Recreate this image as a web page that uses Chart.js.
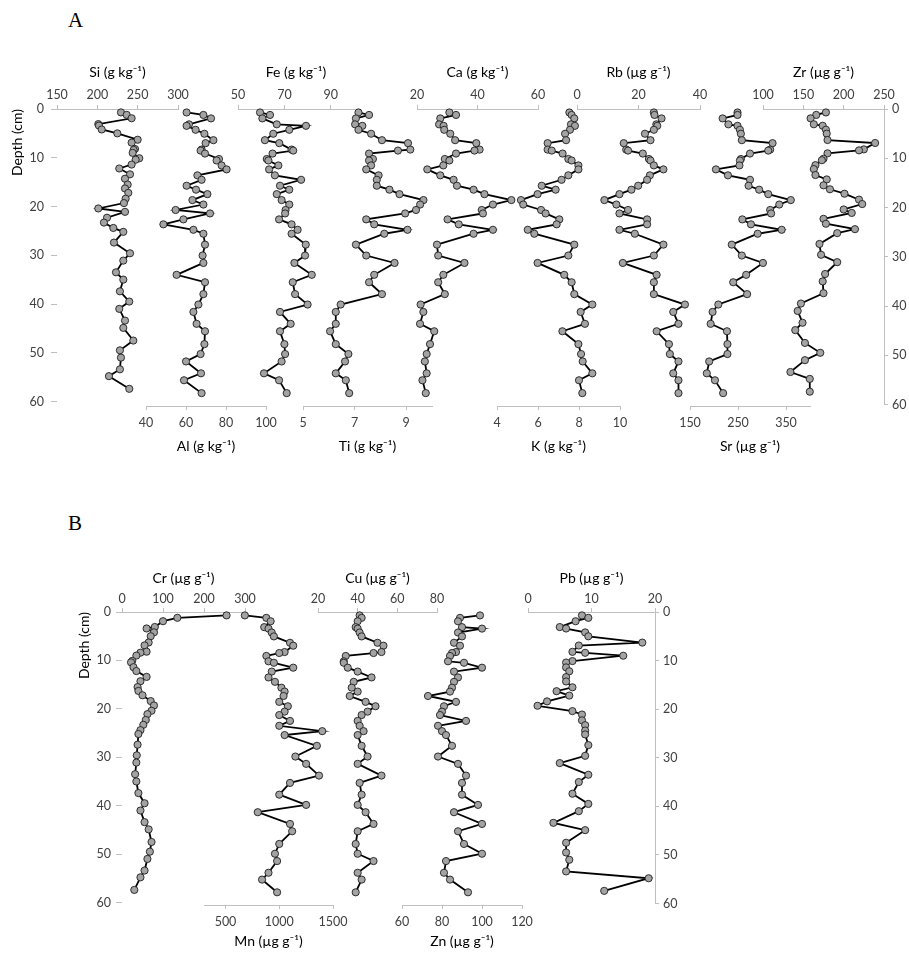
<!DOCTYPE html>
<html>
<head>
<meta charset="utf-8">
<script src="https://cdn.jsdelivr.net/npm/chart.js@4.4.0/dist/chart.umd.min.js"></script>
<style>
  body { margin: 0; background: #fff; width: 909px; height: 954px; position: relative; overflow: hidden; }
  .panel { position: absolute; font-family: "Liberation Serif", serif; font-size: 21px; color: #000; }
</style>
</head>
<body>
<div class="panel" style="left:68px;top:8px">A</div>
<div class="panel" style="left:68px;top:511px">B</div>
<script>
// sample depths (cm)
const depthA = [0.7, 1.2, 1.9, 3.1, 3.4, 4.2, 5.0, 6.3, 6.9, 8.2, 8.4, 9.0, 10.1, 10.4, 11.4, 12.2, 13.4, 14.3, 15.5, 16.3, 17.2, 18.4, 19.3, 20.4, 21.1, 22.3, 23.3, 24.4, 25.2, 27.4, 29.6, 31.1, 33.5, 35.0, 37.4, 39.5, 41.0, 43.4, 44.9, 47.5, 49.5, 51.0, 53.4, 54.8, 57.4];
const depthB = depthA;
const depthTicks = [0, 10, 20, 30, 40, 50, 60];

// panel A (g kg-1 / ug g-1)
const si = [229.3, 236.4, 242.5, 201.2, 202.0, 205.4, 224.8, 250.0, 242.5, 246.7, 245.0, 243.8, 252.0, 247.5, 242.5, 227.2, 240.5, 234.3, 237.6, 234.3, 238.4, 235.1, 233.0, 201.2, 234.3, 212.0, 208.2, 219.8, 232.2, 220.6, 240.5, 232.2, 223.1, 232.2, 228.0, 239.6, 227.2, 234.3, 232.2, 244.6, 228.0, 229.3, 228.0, 214.4, 239.6];
const al = [60.3, 68.7, 72.5, 61.5, 60.3, 64.8, 69.2, 73.7, 69.8, 67.8, 67.3, 69.5, 76.5, 75.3, 77.8, 80.3, 65.7, 67.8, 60.3, 65.0, 70.7, 63.2, 68.7, 54.8, 72.0, 58.7, 48.7, 63.7, 68.7, 69.5, 68.3, 68.7, 55.3, 69.5, 68.7, 66.2, 63.7, 65.3, 69.5, 69.2, 67.3, 60.0, 67.5, 59.0, 67.8];
const fe = [59.5, 63.8, 60.5, 66.7, 79.3, 72.1, 65.2, 61.6, 67.8, 73.1, 73.8, 64.9, 62.4, 63.1, 67.4, 63.4, 65.9, 77.2, 68.1, 72.1, 66.7, 68.8, 72.1, 70.5, 70.3, 67.7, 73.1, 75.7, 73.1, 79.2, 78.9, 74.3, 81.8, 73.6, 74.6, 80.0, 68.1, 72.7, 68.1, 70.0, 70.3, 68.8, 61.2, 67.7, 71.0];
const ti = [7.15, 7.56, 7.05, 7.02, 7.30, 7.15, 7.64, 8.06, 9.07, 9.16, 8.68, 7.56, 7.71, 7.56, 7.64, 7.45, 7.93, 7.86, 7.86, 8.35, 8.74, 9.67, 9.54, 9.38, 8.96, 7.45, 7.76, 9.05, 8.15, 7.05, 7.45, 8.55, 7.76, 7.56, 8.06, 6.46, 6.27, 6.27, 6.05, 6.27, 6.76, 6.63, 6.27, 6.66, 6.79];
const ca = [30.7, 32.9, 27.7, 27.3, 28.8, 29.0, 31.0, 32.6, 39.6, 40.7, 39.0, 32.9, 29.2, 30.7, 28.7, 23.4, 27.7, 32.1, 33.2, 38.7, 42.3, 51.2, 45.1, 41.4, 41.8, 30.1, 33.8, 45.1, 38.7, 26.6, 27.0, 35.7, 28.7, 27.0, 29.2, 21.2, 22.1, 21.0, 25.7, 24.3, 23.2, 22.6, 23.2, 21.8, 22.9];
const k = [7.53, 7.64, 7.77, 7.61, 7.80, 7.56, 7.32, 7.37, 6.47, 6.47, 6.67, 7.20, 7.48, 7.64, 7.97, 7.97, 7.48, 7.15, 6.18, 6.86, 5.98, 5.17, 5.28, 6.15, 6.37, 7.04, 6.91, 5.50, 5.82, 7.77, 7.48, 5.98, 7.28, 7.64, 7.77, 8.65, 8.08, 8.29, 7.19, 7.97, 8.10, 8.18, 8.65, 8.00, 8.16];
const rb = [25.0, 25.2, 27.5, 25.8, 26.1, 25.0, 22.1, 23.9, 15.2, 16.0, 16.6, 21.4, 23.4, 23.9, 25.0, 28.1, 23.7, 22.8, 19.9, 17.7, 13.8, 8.9, 12.8, 16.6, 13.8, 22.8, 22.8, 13.8, 18.8, 28.1, 25.0, 14.9, 25.9, 25.0, 25.0, 35.1, 31.3, 33.0, 25.9, 29.9, 30.2, 33.0, 31.3, 33.0, 33.0];
const sr = [249, 249, 218, 230, 249, 254, 256, 258, 322, 317, 313, 275, 256, 254, 253, 204, 229, 275, 272, 294, 313, 360, 336, 317, 319, 259, 277, 341, 291, 237, 258, 302, 267, 240, 269, 209, 197, 193, 227, 228, 228, 190, 185, 202, 219];
const zr = [178, 166, 159, 163, 174, 178, 179, 180, 239, 225, 219, 180, 175, 173, 165, 163, 165, 179, 175, 183, 201, 219, 223, 200, 210, 175, 178, 214, 192, 170, 172, 192, 177, 174, 175, 147, 143, 149, 140, 152, 171, 152, 134, 158, 158];

// panel B (ug g-1)
const cr = [255, 135, 100, 80, 60, 78, 70, 65, 55, 60, 45, 35, 25, 22, 28, 35, 60, 45, 38, 40, 50, 70, 78, 72, 62, 58, 52, 45, 40, 38, 36, 35, 32, 35, 40, 55, 45, 55, 65, 72, 68, 62, 55, 45, 30];
const mn = [680, 880, 920, 860, 900, 930, 950, 1100, 1130, 1050, 1000, 880, 900, 950, 1130, 930, 900, 960, 1020, 1050, 1040, 1000, 1080, 1050, 1000, 1100, 1000, 1400, 1050, 1350, 1150, 1250, 1370, 1100, 1000, 1250, 800, 1100, 1120, 1000, 960, 980, 900, 840, 980];
const cu = [41, 42, 40, 39, 40, 41, 42, 50, 53, 52, 48, 34, 33, 33, 35, 40, 47, 38, 37, 40, 36, 44, 49, 45, 42, 40, 41, 43, 40, 42, 45, 40, 52, 41, 42, 40, 44, 48, 40, 39, 40, 48, 40, 42, 39];
const zn = [99, 89, 88, 90, 100, 88, 90, 86, 89, 87, 85, 84, 83, 91, 100, 86, 88, 86, 85, 84, 73, 87, 81, 80, 79, 92, 78, 80, 82, 85, 78, 88, 92, 90, 90, 98, 86, 100, 88, 91, 100, 82, 81, 84, 93];
const pb = [8.5, 9.5, 7.5, 5, 6, 9, 9.5, 18, 8, 7, 9, 15, 7, 6, 6, 6.5, 6, 6, 7, 4.5, 6.5, 3, 1.5, 7, 8.5, 8.5, 9, 9, 9, 9.5, 9, 5, 9.5, 8, 7, 9.5, 8, 4, 9, 6, 6, 6.5, 6, 19, 12];

const axisGrey = "#bfbfbf";
const tickColor = "#404040";
const tickFont = { family: "Lato", size: 12.5 };
const titleFont = { family: "Lato", size: 14 };

function addProfile(p) {
    let padL = p.yAxis === "left" ? p.yw : 26;
    let padR = p.yAxis === "right" ? p.yw : 26;
    let edge = 10;
    let cv = document.createElement("canvas");
    cv.width = p.x1 - p.x0 + padL + padR;
    cv.height = p.bottom - p.top + p.axisH + edge;
    cv.style.position = "absolute";
    cv.style.left = (p.x0 - padL) + "px";
    cv.style.top = (p.pos === "top" ? p.top - p.axisH : p.top - edge) + "px";
    document.body.appendChild(cv);

    new Chart(cv, {
        type: "scatter",
        data: {
            datasets: [{
                data: p.vals.map((v, i) => ({ x: v, y: -p.depth[i] })),
                showLine: true,
                borderColor: "#000",
                borderWidth: 1.8,
                pointRadius: 3.6,
                pointBackgroundColor: "#a3a3a3",
                pointBorderColor: "#1e1e1e",
                pointBorderWidth: 0.9,
                clip: false
            }]
        },
        options: {
            responsive: false,
            animation: false,
            layout: {
                autoPadding: false,
                padding: {
                    left: p.yAxis === "left" ? 0 : padL,
                    right: p.yAxis === "right" ? 0 : padR,
                    top: p.pos === "top" ? 0 : edge,
                    bottom: p.pos === "top" ? edge : 0
                }
            },
            plugins: { legend: { display: false }, tooltip: { enabled: false } },
            scales: {
                x: {
                    type: "linear",
                    position: p.pos,
                    min: p.min,
                    max: p.max,
                    afterBuildTicks: s => { s.ticks = p.ticks.map(v => ({ value: v })); },
                    afterFit: s => { s.height = p.axisH; },
                    ticks: { callback: v => String(v), font: tickFont, color: tickColor, padding: p.tickPad, maxRotation: 0, autoSkip: false },
                    grid: { drawOnChartArea: false, tickLength: 4, color: axisGrey },
                    border: { color: axisGrey },
                    title: { display: true, text: p.title, font: titleFont, color: "#000", padding: 0 }
                },
                y: {
                    type: "linear",
                    display: !!p.yAxis,
                    position: p.yAxis || "left",
                    min: -60,
                    max: 0,
                    afterBuildTicks: s => { s.ticks = depthTicks.map(v => ({ value: -v })); },
                    afterFit: s => { if (p.yAxis) s.width = p.yw; },
                    ticks: { callback: v => Math.abs(v), font: tickFont, color: tickColor, padding: p.yAxis === "left" ? p.yPad : 4 },
                    grid: { drawOnChartArea: false, tickLength: p.yAxis === "left" ? 6 : 4, color: axisGrey },
                    border: { display: p.yAxis === "right", color: axisGrey },
                    title: { display: p.yAxis === "left", text: "Depth (cm)", align: "end", font: titleFont, color: "#000", padding: { top: 4 } }
                }
            }
        }
    });
}

// panel A
const A = { top: 109, bottom: 406, depth: depthA };
const topA = Object.assign({ pos: "top", axisH: 45, tickPad: 3 }, A);
const botA = Object.assign({ pos: "bottom", axisH: 49, tickPad: 5 }, A);
addProfile(Object.assign({}, topA, { x0: 57, x1: 178, min: 150, max: 300, ticks: [150, 200, 250, 300], title: "Si (g kg\u207B\u00B9)", vals: si, yAxis: "left", yw: 52, yPad: 7 }));
addProfile(Object.assign({}, botA, { x0: 146, x1: 266, min: 40, max: 100, ticks: [40, 60, 80, 100], title: "Al (g kg\u207B\u00B9)", vals: al }));
addProfile(Object.assign({}, topA, { x0: 238, x1: 354, min: 50, max: 100, ticks: [50, 70, 90], title: "Fe (g kg\u207B\u00B9)", vals: fe }));
addProfile(Object.assign({}, botA, { x0: 303, x1: 432, min: 5, max: 10, ticks: [5, 7, 9], title: "Ti (g kg\u207B\u00B9)", vals: ti }));
addProfile(Object.assign({}, topA, { x0: 417, x1: 538, min: 20, max: 60, ticks: [20, 40, 60], title: "Ca (g kg\u207B\u00B9)", vals: ca }));
addProfile(Object.assign({}, botA, { x0: 497, x1: 620, min: 4, max: 10, ticks: [4, 6, 8, 10], title: "K (g kg\u207B\u00B9)", vals: k }));
addProfile(Object.assign({}, topA, { x0: 577, x1: 700, min: 0, max: 40, ticks: [0, 20, 40], title: "Rb (\u00B5g g\u207B\u00B9)", vals: rb }));
addProfile(Object.assign({}, botA, { x0: 690, x1: 810, min: 150, max: 400, ticks: [150, 250, 350], title: "Sr (\u00B5g g\u207B\u00B9)", vals: sr }));
addProfile(Object.assign({}, topA, { x0: 763, x1: 884, min: 100, max: 250, ticks: [100, 150, 200, 250], title: "Zr (\u00B5g g\u207B\u00B9)", vals: zr, yAxis: "right", yw: 28 }));

// panel B
const B = { top: 612, bottom: 905, depth: depthB };
const topB = Object.assign({ pos: "top", axisH: 42, tickPad: 2 }, B);
const botB = Object.assign({ pos: "bottom", axisH: 45, tickPad: 5 }, B);
addProfile(Object.assign({}, topB, { x0: 122, x1: 245, min: 0, max: 300, ticks: [0, 100, 200, 300], title: "Cr (\u00B5g g\u207B\u00B9)", vals: cr, yAxis: "left", yw: 50, yPad: 5 }));
addProfile(Object.assign({}, botB, { x0: 204, x1: 333, min: 300, max: 1500, ticks: [500, 1000, 1500], title: "Mn (\u00B5g g\u207B\u00B9)", vals: mn }));
addProfile(Object.assign({}, topB, { x0: 318, x1: 437, min: 20, max: 80, ticks: [20, 40, 60, 80], title: "Cu (\u00B5g g\u207B\u00B9)", vals: cu }));
addProfile(Object.assign({}, botB, { x0: 402, x1: 522, min: 60, max: 120, ticks: [60, 80, 100, 120], title: "Zn (\u00B5g g\u207B\u00B9)", vals: zn }));
addProfile(Object.assign({}, topB, { x0: 528, x1: 655, min: 0, max: 20, ticks: [0, 10, 20], title: "Pb (\u00B5g g\u207B\u00B9)", vals: pb, yAxis: "right", yw: 28 }));
</script>
</body>
</html>
